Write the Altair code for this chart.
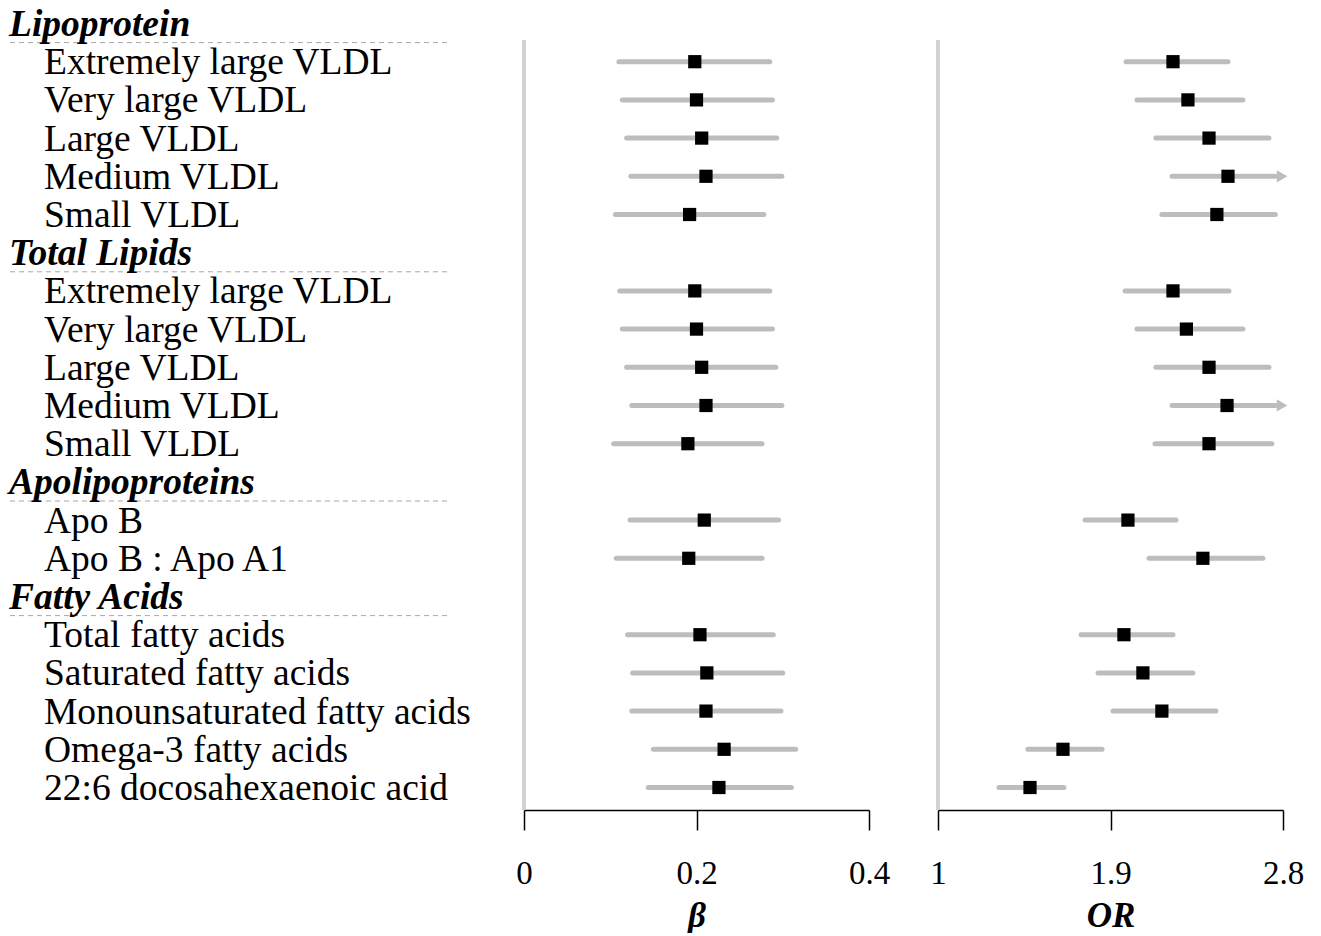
import altair as alt
import pandas as pd

# ---- data ----
groups = ["Lipoprotein", "Total Lipids", "Apolipoproteins", "Fatty Acids"]
group_items = [
    ["Extremely large VLDL", "Very large VLDL", "Large VLDL", "Medium VLDL", "Small VLDL"],
    ["Extremely large VLDL", "Very large VLDL", "Large VLDL", "Medium VLDL", "Small VLDL"],
    ["Apo B", "Apo B : Apo A1"],
    ["Total fatty acids", "Saturated fatty acids", "Monounsaturated fatty acids",
     "Omega-3 fatty acids", "22:6 docosahexaenoic acid"],
]

beta_est = [0.198, 0.200, 0.206, 0.211, 0.192,
            0.198, 0.200, 0.206, 0.211, 0.190,
            0.209, 0.191,
            0.204, 0.212, 0.211, 0.232, 0.226]
beta_lo = [0.110, 0.114, 0.119, 0.124, 0.106,
           0.111, 0.114, 0.119, 0.125, 0.104,
           0.123, 0.107,
           0.120, 0.126, 0.125, 0.150, 0.144]
beta_hi = [0.285, 0.288, 0.293, 0.299, 0.278,
           0.285, 0.288, 0.292, 0.299, 0.276,
           0.295, 0.276,
           0.289, 0.300, 0.298, 0.315, 0.310]

or_est = [2.226, 2.304, 2.414, 2.513, 2.455,
          2.226, 2.296, 2.414, 2.508, 2.414,
          1.991, 2.382,
          1.970, 2.069, 2.168, 1.652, 1.480]
or_lo = [1.981, 2.038, 2.137, 2.221, 2.168,
         1.976, 2.038, 2.137, 2.221, 2.132,
         1.767, 2.101,
         1.746, 1.835, 1.913, 1.469, 1.318]
or_hi = [2.513, 2.591, 2.727, 2.880, 2.789,
         2.518, 2.591, 2.727, 2.880, 2.742,
         2.242, 2.695,
         2.226, 2.330, 2.450, 1.856, 1.657]

beta_ticks = [0, 0.2, 0.4]
or_ticks = [1, 1.9, 2.8]

# ---- build tables ----
header_rows = []
item_rows = []
idx = 0
k = 0
for g, names in zip(groups, group_items):
    header_rows.append({"idx": idx, "label": g})
    idx += 1
    for n in names:
        item_rows.append({"idx": idx, "label": n,
                          "b": beta_est[k], "blo": beta_lo[k], "bhi": beta_hi[k],
                          "o": or_est[k], "olo": or_lo[k], "ohi": or_hi[k]})
        idx += 1
        k += 1

headers = pd.DataFrame(header_rows)
items = pd.DataFrame(item_rows)

PANEL_H = 810
YDOM = [-0.615, 20.589]
yscale = alt.Scale(domain=YDOM, reverse=True, nice=False, zero=False)
SERIF = "Liberation Serif"
CI_GREY = "#bdbdbd"
REF_GREY = "#d2d2d2"

# ---- label panel ----
base_h = alt.Chart(headers)
base_i = alt.Chart(items)

hdr_text = base_h.mark_text(align="left", baseline="alphabetic", dy=12.5,
                            font=SERIF, fontSize=37.5, fontStyle="italic",
                            fontWeight="bold", color="black").encode(
    y=alt.Y("idx:Q", scale=yscale, axis=None),
    x=alt.value(9),
    text="label:N",
)
hdr_rule = base_h.transform_calculate(yd="datum.idx + 0.5").mark_rule(
    color="#a8a8a8", strokeWidth=1, strokeDash=[5, 4]).encode(
    y=alt.Y("yd:Q", scale=yscale, axis=None),
    x=alt.value(10), x2=alt.value(447),
)
item_text = base_i.mark_text(align="left", baseline="alphabetic", dy=12.5,
                             font=SERIF, fontSize=37.5, color="black").encode(
    y=alt.Y("idx:Q", scale=yscale, axis=None),
    x=alt.value(44),
    text="label:N",
)
labels = alt.layer(hdr_rule, hdr_text, item_text).properties(width=455, height=PANEL_H)


def forest(est, lo, hi, ticks, title, ref, cap=None):
    xs = alt.Scale(domain=[ticks[0], ticks[-1]], nice=False, zero=False)
    xaxis = alt.Axis(values=ticks, format=".1~f", title=title)
    refdf = pd.DataFrame({"v": [ref], "y0": [0.43], "y1": [YDOM[1]]})
    refline = alt.Chart(refdf).mark_rule(color=REF_GREY, strokeWidth=4).encode(
        x=alt.X("v:Q", scale=xs, axis=xaxis),
        y=alt.Y("y0:Q", scale=yscale, axis=None),
        y2="y1:Q",
    )
    b = base_i
    if cap is not None:
        b = b.transform_calculate(hiplot=f"min(datum.{hi}, {cap[0]})")
        hifield = "hiplot:Q"
    else:
        hifield = f"{hi}:Q"
    ci = b.mark_rule(color=CI_GREY, strokeWidth=5, strokeCap="round").encode(
        x=alt.X(f"{lo}:Q", scale=xs, axis=xaxis),
        x2=hifield,
        y=alt.Y("idx:Q", scale=yscale, axis=None),
    )
    pts = base_i.mark_square(size=175, color="black", opacity=1).encode(
        x=alt.X(f"{est}:Q", scale=xs, axis=xaxis),
        y=alt.Y("idx:Q", scale=yscale, axis=None),
    )
    layers = [refline, ci, pts]
    if cap is not None:
        arrows = base_i.transform_filter(f"datum.{hi} > {ticks[-1]}").transform_calculate(
            ax=str(cap[1])).mark_point(shape="triangle-right", filled=True, size=150,
                                       color=CI_GREY, opacity=1).encode(
            x=alt.X("ax:Q", scale=xs, axis=xaxis),
            y=alt.Y("idx:Q", scale=yscale, axis=None),
        )
        layers.insert(2, arrows)
    return alt.layer(*layers).properties(width=345, height=PANEL_H)


beta_panel = forest("b", "blo", "bhi", beta_ticks, "β", 0)
or_panel = forest("o", "olo", "ohi", or_ticks, "OR", 1, cap=(2.76, 2.795))

chart = alt.hconcat(labels, beta_panel, or_panel, spacing=69, bounds="flush").properties(
    padding=0, background="white"
).configure_view(stroke=None).configure_axis(
    grid=False,
    domainColor="black", domainWidth=1.5,
    tickColor="black", tickWidth=1.5, tickSize=20,
    labelFont=SERIF, labelFontSize=33, labelColor="black", labelPadding=27,
    labelFlush=False,
    titleFont=SERIF, titleFontSize=35, titleFontStyle="italic", titleFontWeight="bold",
    titleColor="black", titlePadding=8,
)

chart.save("out.html", embed_options={"renderer": "svg", "actions": False})
